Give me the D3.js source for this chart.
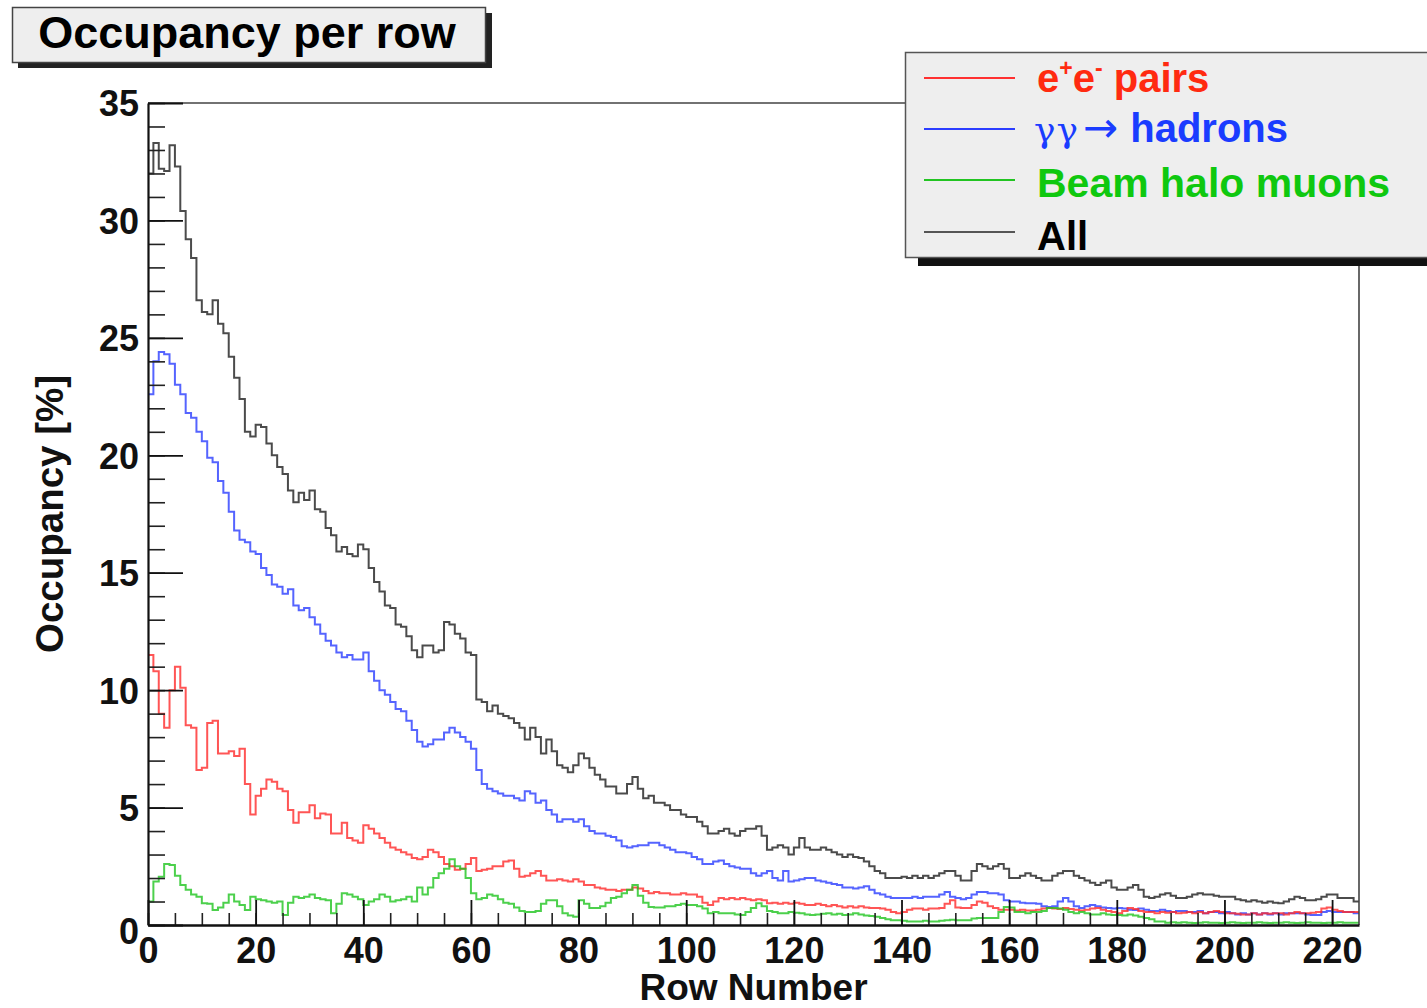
<!DOCTYPE html>
<html>
<head>
<meta charset="utf-8">
<script src="https://cdn.jsdelivr.net/npm/d3@7"></script>
<style>
  html, body { margin: 0; padding: 0; background: #fff; }
  svg { display: block; font-family: "Liberation Sans", Arial, Helvetica, sans-serif; }
  .tick text { font-weight: bold; font-size: 36px; fill: #111; }
</style>
</head>
<body>
<div id="chart"></div>
<script>
////////////////////////////////////////////////////////////////////
////////////////////////////  Data  ////////////////////////////////
// one value per row (bins 0..224), occupancy in %
const nRows = 225;

const allRows = [
  32.0, 33.3, 32.2, 32.1, 33.2, 32.3, 30.4, 29.2, 28.4, 26.6,
  26.1, 26.0, 26.6, 25.6, 25.2, 24.2, 23.3, 22.4, 21.0, 20.8,
  21.3, 21.2, 20.5, 20.0, 19.5, 19.2, 18.5, 18.0, 18.4, 18.1,
  18.5, 17.7, 17.6, 16.9, 16.6, 15.9, 16.1, 15.8, 15.7, 16.2,
  16.0, 15.2, 14.6, 14.2, 13.6, 13.5, 12.8, 12.7, 12.3, 11.7,
  11.4, 11.9, 11.9, 11.6, 11.7, 12.9, 12.8, 12.4, 12.2, 11.6,
  11.5, 9.6, 9.5, 9.1, 9.35, 9.0, 8.9, 8.8, 8.6, 8.4,
  7.9, 8.4, 8.0, 7.3, 7.9, 7.4, 6.8, 6.7, 6.5, 6.8,
  7.3, 7.1, 6.7, 6.4, 6.2, 5.9, 5.9, 5.6, 5.6, 6.0,
  6.3, 5.8, 5.4, 5.5, 5.2, 5.2, 5.1, 4.9, 4.9, 4.7,
  4.6, 4.6, 4.4, 4.2, 3.9, 3.9, 4.0, 4.1, 3.9, 3.8,
  4.0, 4.1, 4.1, 4.2, 3.8, 3.2, 3.3, 3.4, 3.3, 3.0,
  3.3, 3.7, 3.3, 3.2, 3.2, 3.3, 3.2, 3.1, 3.0, 2.9,
  3.0, 2.9, 2.85, 2.7, 2.5, 2.3, 2.2, 2.0, 2.0, 2.0,
  2.05, 2.0, 2.1, 2.0, 2.1, 2.0, 2.1, 2.2, 2.3, 2.3,
  2.1, 1.9, 1.9, 2.3, 2.6, 2.5, 2.4, 2.5, 2.6, 2.4,
  2.0, 2.0, 2.1, 2.2, 2.1, 2.0, 1.9, 1.9, 2.1, 2.2,
  2.3, 2.3, 2.1, 2.0, 1.9, 1.8, 1.7, 1.8, 1.9, 1.6,
  1.5, 1.5, 1.6, 1.7, 1.5, 1.2, 1.15, 1.2, 1.3, 1.35,
  1.25, 1.15, 1.15, 1.2, 1.3, 1.35, 1.3, 1.3, 1.25, 1.2,
  1.2, 1.2, 1.1, 1.05, 1.0, 1.05, 1.0, 0.95, 1.0, 0.95,
  0.93, 1.0, 1.1, 1.2, 1.15, 1.05, 1.05, 1.1, 1.2, 1.3,
  1.3, 1.15, 1.15, 1.15, 1.0
];

const hadronRows = [
  22.6, 24.0, 24.4, 24.3, 23.9, 23.0, 22.6, 21.8, 21.6, 21.0,
  20.6, 19.9, 19.7, 18.9, 18.4, 17.6, 16.8, 16.4, 16.3, 15.9,
  15.8, 15.2, 14.9, 14.5, 14.4, 14.1, 14.3, 13.6, 13.4, 13.5,
  13.1, 12.8, 12.4, 12.1, 11.9, 11.6, 11.4, 11.5, 11.3, 11.3,
  11.6, 10.8, 10.4, 10.0, 9.8, 9.5, 9.2, 9.1, 8.7, 8.3,
  7.8, 7.6, 7.7, 7.9, 7.9, 8.2, 8.4, 8.2, 8.0, 7.8,
  7.5, 6.6, 6.0, 5.8, 5.7, 5.6, 5.5, 5.5, 5.4, 5.3,
  5.7, 5.6, 5.2, 5.3, 4.9, 4.7, 4.4, 4.5, 4.5, 4.4,
  4.5, 4.2, 4.0, 3.9, 3.9, 3.8, 3.75, 3.6, 3.35, 3.3,
  3.35, 3.4, 3.4, 3.5, 3.5, 3.4, 3.3, 3.2, 3.1, 3.1,
  3.05, 2.9, 2.8, 2.6, 2.6, 2.7, 2.75, 2.6, 2.5, 2.45,
  2.4, 2.4, 2.2, 2.1, 2.2, 2.3, 2.0, 1.9, 2.3, 1.85,
  1.9, 1.95, 2.0, 2.0, 1.9, 1.85, 1.8, 1.75, 1.7, 1.6,
  1.6, 1.55, 1.6, 1.65, 1.5, 1.35, 1.3, 1.2, 1.15, 1.15,
  1.15, 1.15, 1.2, 1.15, 1.2, 1.2, 1.2, 1.3, 1.4, 1.2,
  1.15, 1.1, 1.15, 1.3, 1.4, 1.4, 1.35, 1.35, 1.3, 1.05,
  1.0, 1.0, 0.95, 0.93, 0.93, 0.9, 0.8, 0.77, 0.8, 1.0,
  1.15, 1.0, 0.8, 0.72, 0.8, 0.85, 0.8, 0.75, 0.72, 0.7,
  0.72, 0.7, 0.65, 0.64, 0.7, 0.65, 0.6, 0.6, 0.65, 0.6,
  0.55, 0.6, 0.6, 0.55, 0.55, 0.6, 0.5, 0.55, 0.55, 0.5,
  0.55, 0.5, 0.45, 0.5, 0.45, 0.5, 0.45, 0.5, 0.45, 0.5,
  0.45, 0.5, 0.5, 0.5, 0.5, 0.45, 0.43, 0.43, 0.55, 0.6,
  0.55, 0.55, 0.55, 0.55, 0.5
];

const pairRows = [
  11.5, 10.8, 9.0, 8.4, 10.0, 11.0, 10.1, 8.5, 8.4, 6.6,
  6.7, 8.6, 8.7, 7.3, 7.3, 7.4, 7.2, 7.5, 6.0, 4.7,
  5.5, 5.8, 6.2, 6.1, 5.8, 5.7, 4.9, 4.35, 4.8, 4.8,
  5.1, 4.55, 4.75, 4.7, 3.9, 3.9, 4.35, 3.7, 3.6, 3.5,
  4.25, 4.1, 3.9, 3.7, 3.5, 3.3, 3.2, 3.1, 3.0, 2.85,
  2.8, 2.9, 3.2, 3.1, 2.9, 2.6, 2.5, 2.35, 2.4, 2.6,
  2.85, 2.3, 2.35, 2.4, 2.5, 2.5, 2.7, 2.75, 2.4, 2.05,
  2.1, 2.2, 2.3, 2.1, 1.9, 1.9, 1.95, 1.9, 1.85, 1.95,
  1.85, 1.7, 1.7, 1.6, 1.55, 1.5, 1.5, 1.45, 1.5, 1.5,
  1.6, 1.55, 1.45, 1.35, 1.4, 1.35, 1.35, 1.3, 1.3, 1.35,
  1.3, 1.3, 1.2, 0.95, 0.85, 1.0, 1.15, 1.1, 1.15, 1.1,
  1.15, 1.1, 1.05, 1.1, 1.05, 0.93, 0.95, 0.9, 0.95, 0.9,
  0.95, 0.9, 0.85, 0.85, 0.9, 0.85, 0.8, 0.85, 0.8, 0.75,
  0.8, 0.75, 0.8, 0.75, 0.72, 0.72, 0.7, 0.65, 0.55, 0.5,
  0.55, 0.65, 0.7, 0.7, 0.65, 0.7, 0.7, 0.72, 0.9, 1.05,
  0.75, 0.72, 0.72, 0.85, 1.0, 0.95, 0.8, 0.72, 0.65, 0.65,
  0.65, 0.62, 0.65, 0.62, 0.62, 0.65, 0.7, 0.72, 0.7, 0.68,
  0.72, 0.68, 0.65, 0.62, 0.65, 0.7, 0.72, 0.65, 0.6, 0.55,
  0.5, 0.6, 0.72, 0.68, 0.6, 0.55, 0.55, 0.5, 0.55, 0.52,
  0.55, 0.5, 0.52, 0.55, 0.5, 0.55, 0.5, 0.55, 0.6, 0.55,
  0.5, 0.5, 0.48, 0.45, 0.45, 0.5, 0.45, 0.5, 0.48, 0.5,
  0.5, 0.45, 0.5, 0.55, 0.5, 0.5, 0.52, 0.55, 0.7, 0.75,
  0.65, 0.6, 0.55, 0.55, 0.55
];

const haloRows = [
  1.0, 1.85, 2.05, 2.6, 2.55, 2.1, 1.7, 1.5, 1.3, 1.2,
  0.93, 0.9, 0.64, 0.75, 0.95, 1.3, 1.0, 0.85, 0.64, 1.2,
  1.1, 1.05, 1.0, 0.95, 1.0, 0.43, 0.95, 1.2, 1.15, 1.2,
  1.3, 1.15, 1.1, 1.05, 0.5, 0.9, 1.35, 1.3, 1.2, 1.1,
  0.85, 1.0, 1.1, 1.3, 1.2, 1.0, 1.05, 1.1, 1.2, 1.0,
  1.6, 1.3, 1.6, 2.0, 2.2, 2.4, 2.8, 2.5, 2.4, 2.0,
  1.35, 1.1, 1.15, 1.3, 1.25, 1.1, 0.95, 0.9, 0.75, 0.6,
  0.55, 0.55, 0.6, 0.9, 1.05, 1.05, 0.8, 0.5, 0.4, 0.35,
  1.05, 0.9, 0.72, 0.72, 0.8, 0.95, 1.15, 1.2, 1.35, 1.5,
  1.7, 1.25, 0.95, 0.77, 0.75, 0.75, 0.8, 0.8, 0.85, 0.9,
  0.85, 0.85, 0.8, 0.7, 0.5, 0.55, 0.5, 0.5, 0.5, 0.45,
  0.43, 0.55, 0.72, 0.93, 0.8, 0.6, 0.55, 0.5, 0.5, 0.55,
  0.52, 0.5, 0.45, 0.43, 0.45, 0.48, 0.5, 0.45, 0.48, 0.43,
  0.45, 0.5, 0.45, 0.4, 0.38, 0.35, 0.3, 0.25, 0.2, 0.2,
  0.18, 0.15, 0.15, 0.15, 0.18, 0.15, 0.15, 0.18, 0.2, 0.22,
  0.2, 0.2, 0.2, 0.28, 0.3, 0.3, 0.3, 0.3, 0.55, 0.77,
  0.75, 0.55, 0.55, 0.5, 0.55, 0.55, 0.6, 0.72, 0.72, 0.7,
  0.65, 0.55, 0.5, 0.55, 0.5, 0.45, 0.45, 0.5, 0.45, 0.43,
  0.43, 0.4, 0.45, 0.4, 0.35, 0.3, 0.25, 0.15, 0.15, 0.1,
  0.12, 0.1, 0.12, 0.1, 0.08, 0.1, 0.12, 0.1, 0.1, 0.08,
  0.1, 0.12, 0.1, 0.08, 0.1, 0.1, 0.12, 0.1, 0.08, 0.1,
  0.1, 0.12, 0.1, 0.08, 0.1, 0.12, 0.1, 0.1, 0.08, 0.1,
  0.1, 0.12, 0.1, 0.1, 0.1
];

const yMajorTicks = [0, 5, 10, 15, 20, 25, 30, 35];
const xMajorTicks = [0, 20, 40, 60, 80, 100, 120, 140, 160, 180, 200, 220];

////////////////////////////////////////////////////////////////////
////////////////////////////  Init  ////////////////////////////////
const width = 1427;
const height = 1008;
const plot = { left: 148, right: 1359, top: 103, bottom: 925 };

const svg = d3
  .select("#chart")
  .append("svg")
  .attr("width", width)
  .attr("height", height);

const x = d3.scaleLinear().domain([0, nRows]).range([plot.left, plot.right]);
const y = d3.scaleLinear().domain([0, 35]).range([plot.bottom, plot.top]);

// series, drawn back to front
const series = [
  { name: "All", rows: allRows, color: "#1e1e1e" },
  { name: "hadrons", rows: hadronRows, color: "#2b3dff" },
  { name: "pairs", rows: pairRows, color: "#ff2b2b" },
  { name: "halo", rows: haloRows, color: "#1fc41f" },
];

////////////////////////////////////////////////////////////////////
////////////////////////////  Title  ///////////////////////////////
svg.append("rect").attr("x", 18).attr("y", 13).attr("width", 474).attr("height", 55).attr("fill", "#222");
svg
  .append("rect")
  .attr("x", 12.5)
  .attr("y", 7.5)
  .attr("width", 473)
  .attr("height", 55)
  .attr("fill", "#eeeeee")
  .attr("stroke", "#444")
  .attr("stroke-width", 1.5);
svg
  .append("text")
  .attr("x", 247)
  .attr("y", 48)
  .attr("text-anchor", "middle")
  .attr("font-weight", "bold")
  .attr("font-size", 45)
  .attr("fill", "#000")
  .text("Occupancy per row");

////////////////////////////////////////////////////////////////////
////////////////////////////  Histograms  //////////////////////////
svg
  .append("clipPath")
  .attr("id", "clip")
  .append("rect")
  .attr("x", plot.left)
  .attr("y", plot.top)
  .attr("width", plot.right - plot.left)
  .attr("height", plot.bottom - plot.top);

const stepLine = d3
  .line()
  .curve(d3.curveStepAfter)
  .x((d) => x(d[0]))
  .y((d) => y(d[1]));

const histG = svg.append("g").attr("clip-path", "url(#clip)");

series.forEach((s) => {
  const pts = s.rows.map((v, i) => [i, v]);
  pts.push([s.rows.length, s.rows[s.rows.length - 1]]);
  histG
    .append("path")
    .datum(pts)
    .attr("d", stepLine)
    .attr("fill", "none")
    .attr("stroke", s.color)
    .attr("stroke-width", 2)
    .attr("stroke-opacity", 0.8);
});

////////////////////////////////////////////////////////////////////
////////////////////////////  Frame & axes  ////////////////////////
// top and right frame
svg
  .append("path")
  .attr("d", `M${plot.left},${plot.top}H${plot.right}V${plot.bottom}`)
  .attr("fill", "none")
  .attr("stroke", "#444")
  .attr("stroke-width", 1.6);

// y axis minor + major
svg
  .append("g")
  .attr("transform", `translate(${plot.left},0)`)
  .call(d3.axisLeft(y).tickValues(d3.range(0, 36, 1)).tickSize(-17).tickSizeOuter(0).tickFormat(""))
  .call((g) => g.select(".domain").remove())
  .call((g) => g.selectAll("line").attr("stroke", "#222").attr("stroke-width", 1.6));

const yAxisG = svg
  .append("g")
  .attr("transform", `translate(${plot.left},0)`)
  .call(d3.axisLeft(y).tickValues(yMajorTicks).tickSize(-35).tickSizeOuter(0).tickPadding(9));
yAxisG.select(".domain").attr("stroke", "#111").attr("stroke-width", 2.2);
yAxisG.selectAll("line").attr("stroke", "#111").attr("stroke-width", 1.8);
yAxisG.selectAll(".tick text").attr("dy", "0.36em");
yAxisG.selectAll(".tick").filter((d) => d === 0).select("text").attr("dy", "0.5em");

// x axis minor + major
svg
  .append("g")
  .attr("transform", `translate(0,${plot.bottom})`)
  .call(d3.axisBottom(x).tickValues(d3.range(0, 225, 5)).tickSize(-12).tickSizeOuter(0).tickFormat(""))
  .call((g) => g.select(".domain").remove())
  .call((g) => g.selectAll("line").attr("stroke", "#222").attr("stroke-width", 1.6));

const xAxisG = svg
  .append("g")
  .attr("transform", `translate(0,${plot.bottom})`)
  .call(d3.axisBottom(x).tickValues(xMajorTicks).tickSize(-25).tickSizeOuter(0).tickPadding(12));
xAxisG.select(".domain").attr("stroke", "#111").attr("stroke-width", 2.4);
xAxisG.selectAll("line").attr("stroke", "#111").attr("stroke-width", 1.8);

// axis titles
svg
  .append("text")
  .attr("x", (plot.left + plot.right) / 2)
  .attr("y", 1000)
  .attr("text-anchor", "middle")
  .attr("font-weight", "bold")
  .attr("font-size", 37)
  .attr("fill", "#111")
  .text("Row Number");

svg
  .append("text")
  .attr("transform", `translate(63,${(plot.top + plot.bottom) / 2}) rotate(-90)`)
  .attr("text-anchor", "middle")
  .attr("font-weight", "bold")
  .attr("font-size", 38.5)
  .attr("fill", "#111")
  .text("Occupancy [%]");

////////////////////////////////////////////////////////////////////
////////////////////////////  Legend  //////////////////////////////
svg.append("rect").attr("x", 918).attr("y", 257).attr("width", 520).attr("height", 9).attr("fill", "#111");
svg
  .append("rect")
  .attr("x", 905.5)
  .attr("y", 52.5)
  .attr("width", 540)
  .attr("height", 205)
  .attr("fill", "#eeeeee")
  .attr("stroke", "#555")
  .attr("stroke-width", 1.5);

const legendItems = [
  { color: "#ff3030", textColor: "#ff2a10", lineY: 78, textY: 92 },
  { color: "#2b3dff", textColor: "#1a3cff", lineY: 129, textY: 142 },
  { color: "#22c422", textColor: "#0fc80f", lineY: 180, textY: 197 },
  { color: "#555", textColor: "#000", lineY: 232, textY: 250 },
];

const legend = svg.append("g");
legendItems.forEach((d) => {
  legend
    .append("line")
    .attr("x1", 924)
    .attr("x2", 1015)
    .attr("y1", d.lineY)
    .attr("y2", d.lineY)
    .attr("stroke", d.color)
    .attr("stroke-width", 2);
});

// e+e- pairs
const t0 = legend
  .append("text")
  .attr("x", 1037)
  .attr("y", legendItems[0].textY)
  .attr("font-weight", "bold")
  .attr("font-size", 40)
  .attr("fill", legendItems[0].textColor);
t0.append("tspan").text("e");
t0.append("tspan").attr("font-size", 23).attr("dy", -16).text("+");
t0.append("tspan").attr("dy", 16).text("e");
t0.append("tspan").attr("font-size", 23).attr("dy", -16).text("-");
t0.append("tspan").attr("dy", 16).text(" pairs");

// γγ → hadrons
const t1 = legend
  .append("text")
  .attr("x", 1034)
  .attr("y", legendItems[1].textY)
  .attr("font-size", 40)
  .attr("fill", legendItems[1].textColor);
t1.append("tspan")
  .attr("font-family", "'DejaVu Serif', 'Liberation Serif', serif")
  .attr("font-size", 36)
  .attr("letter-spacing", 1)
  .text("γγ");
t1.append("tspan").attr("font-family", "'DejaVu Sans', sans-serif").attr("font-size", 42).attr("dx", 4).text("→");
t1.append("tspan").attr("font-weight", "bold").attr("dx", 12).text("hadrons");

legend
  .append("text")
  .attr("x", 1037)
  .attr("y", legendItems[2].textY)
  .attr("font-weight", "bold")
  .attr("font-size", 41)
  .attr("fill", legendItems[2].textColor)
  .text("Beam halo muons");

legend
  .append("text")
  .attr("x", 1037)
  .attr("y", legendItems[3].textY)
  .attr("font-weight", "bold")
  .attr("font-size", 40)
  .attr("fill", legendItems[3].textColor)
  .text("All");
</script>
</body>
</html>
